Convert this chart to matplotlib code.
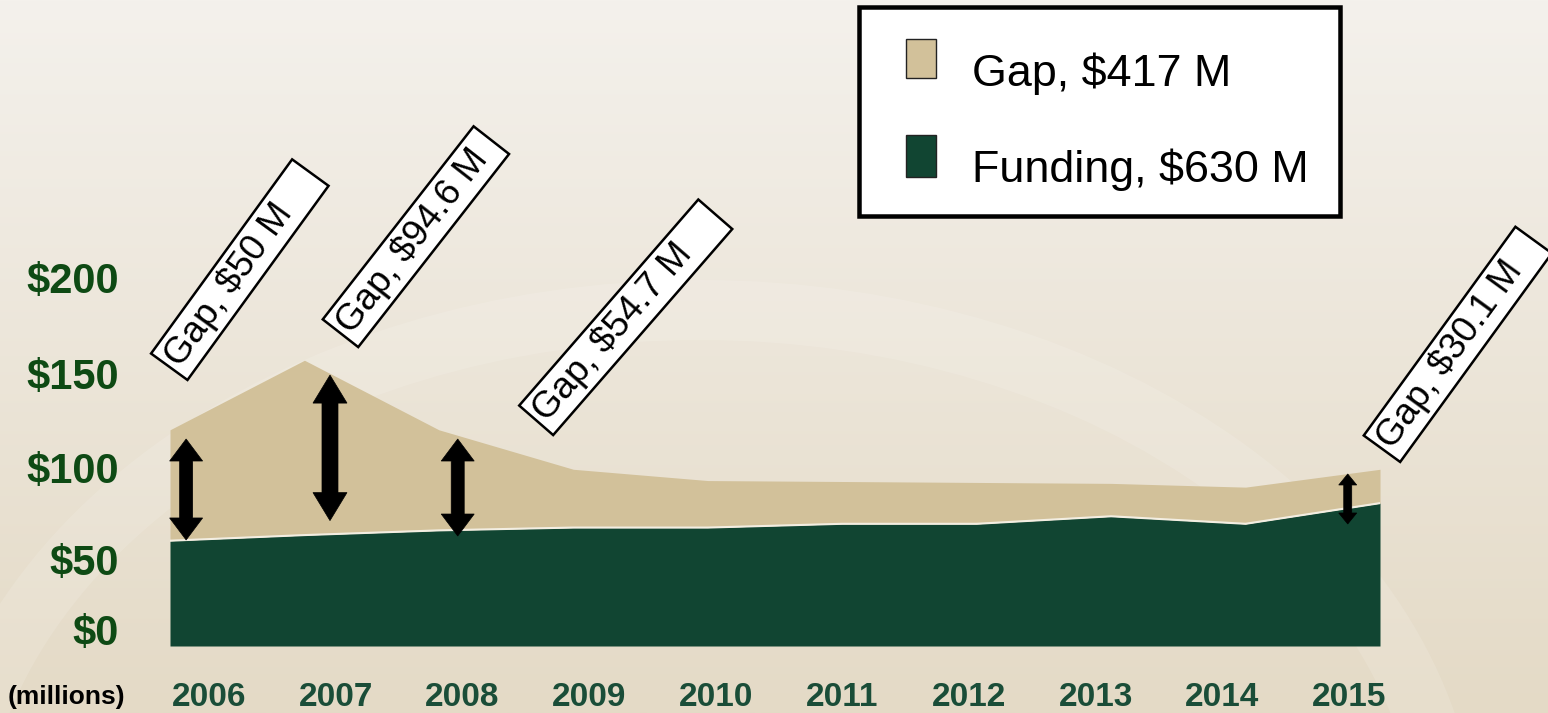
"Funding vs gap stacked area chart"

import matplotlib

matplotlib.use("Agg")
import matplotlib.pyplot as plt
import numpy as np
from matplotlib.colors import to_rgb
from matplotlib.patches import Ellipse, Polygon, Rectangle
from matplotlib.transforms import IdentityTransform, ScaledTranslation

plt.rcParams["font.family"] = ["Liberation Sans", "DejaVu Sans"]

#####
# Data
#####

years = [2006, 2007, 2008, 2009, 2010, 2011, 2012, 2013, 2014, 2015]
funding = [56, 59, 61.5, 63, 63, 65, 65, 69, 65, 76]
gap = [59, 93, 53.5, 31, 25, 22.5, 22, 17.5, 19.5, 18]

ytick_values = [0, 50, 100, 150, 200]
ytick_labels = ["$0", "$50", "$100", "$150", "$200"]

legend_labels = ["Gap, $417 M", "Funding, $630 M"]

# call-out boxes: text, anchor (year, $M)
gap_notes = ["Gap, $50 M", "Gap, $94.6 M", "Gap, $54.7 M", "Gap, $30.1 M"]
note_x = [2006.13, 2007.40, 2008.85, 2015.15]
note_y = [141.5, 159.0, 112.2, 97.9]

# double arrows marking the gap
arrow_x = [2006.12, 2007.19, 2008.14, 2014.76]
arrow_lo = [56.4, 66.7, 58.5, 64.9]
arrow_hi = [110.1, 144.1, 110.1, 91.5]

#####
# Style
#####

W, H = 1548, 713
GREEN = "#114532"
TAN = "#d2c19a"
YEAR_COLOR = "#1a4d38"
YLABEL_COLOR = "#0e4a14"

note_len = [240, 245, 273, 258]  # px
note_angle = [54, 52, 49, 54]
note_width = 45
arrow_size = [(13, 33, 22), (16, 34, 28), (13, 33, 22), (8, 18, 11)]  # shaft, head w, head l (px)


def px(v):
    "pixels to points"
    return v * 72 / 100


def double_arrow(ax, x, lo, hi, shaft, hw, hl):
    "Filled double-headed vertical arrow, sized in pixels"
    cx, yb = ax.transData.transform((x, lo))
    _, yt = ax.transData.transform((x, hi))
    s, h = shaft / 2, hw / 2
    pts = [
        (cx - s, yb + hl), (cx - h, yb + hl), (cx, yb), (cx + h, yb + hl),
        (cx + s, yb + hl), (cx + s, yt - hl), (cx + h, yt - hl), (cx, yt),
        (cx - h, yt - hl), (cx - s, yt - hl),
    ]
    poly = Polygon(pts, closed=True, fc="black", ec="black", lw=0.5,
                   transform=IdentityTransform(), zorder=4)
    ax.figure.add_artist(poly)


fig = plt.figure(figsize=(W / 100, H / 100), dpi=100)

# background gradient with a soft swoosh
bg = fig.add_axes([0, 0, 1, 1])
top = np.array(to_rgb("#f4f1ec"))
bottom = np.array(to_rgb("#e4dac6"))
t = np.linspace(0, 1, 256)[:, None, None]
grad = top * (1 - t) + bottom * t
bg.imshow(grad, aspect="auto", extent=[0, W, H, 0])
bg.add_patch(
    Ellipse((700, 860), 1500, 1100, fill=False, ec="white", lw=px(60), alpha=0.12)
)
bg.set_xlim(0, W)
bg.set_ylim(H, 0)
bg.axis("off")

# main axes
ax = fig.add_axes([170 / W, 67 / H, 1210 / W, 470 / H])
ax.set_facecolor("none")
ax.set_xlim(2006, 2015)
ax.set_ylim(0, 250)
for spine in ax.spines.values():
    spine.set_visible(False)

funding = np.array(funding, dtype=float)
total = funding + np.array(gap, dtype=float)
ax.fill_between(years, 0, funding, color=GREEN, lw=0)
ax.fill_between(years, funding, total, color=TAN, lw=0)
ax.plot(years, funding, color="#f3eee2", lw=1.5)

# y axis
ax.set_yticks(ytick_values)
ax.set_yticklabels(ytick_labels, fontsize=30, fontweight="bold", color=YLABEL_COLOR)
ax.tick_params(axis="y", length=0, pad=37)
for label, dy in zip(ax.get_yticklabels(), [16, -8, -9, -9, -8]):
    label.set_transform(
        label.get_transform() + ScaledTranslation(0, dy / 100, fig.dpi_scale_trans)
    )

# x axis (labels spaced a little tighter than the data points)
ax.set_xticks(np.linspace(2006.29, 2014.77, len(years)))
ax.set_xticklabels(
    [str(y) for y in years], fontsize=24, fontweight="bold", color=YEAR_COLOR
)
ax.tick_params(axis="x", length=0, pad=26)
fig.text(8 / W, 1 - 697 / H, "(millions)", fontsize=19, fontweight="bold",
         va="center", ha="left")

# arrows
for x, lo, hi, size in zip(arrow_x, arrow_lo, arrow_hi, arrow_size):
    double_arrow(ax, x, lo, hi, *size)

# rotated call-out boxes
for text, x, y, length, ang in zip(gap_notes, note_x, note_y, note_len, note_angle):
    ox, oy = ax.transData.transform((x, y))
    c, s = np.cos(np.radians(ang)), np.sin(np.radians(ang))
    box = Rectangle((ox, oy), length, note_width, angle=ang, fc="white", ec="black",
                    lw=px(2.5), transform=IdentityTransform(), zorder=5)
    fig.add_artist(box)
    tx = ox + 5 * c - (note_width / 2) * s
    ty = oy + 5 * s + (note_width / 2) * c
    fig.text(tx, ty, text, transform=IdentityTransform(), rotation=ang,
             rotation_mode="anchor", ha="left", va="center", fontsize=26.5, zorder=6)

# legend drawn by hand to match the framed box
frame = Rectangle((859 / W, 1 - 216 / H), (1340 - 859) / W, (216 - 7) / H,
                  transform=fig.transFigure, fc="white", ec="black", lw=px(4.5))
fig.add_artist(frame)
for (y0, y1), color, label, base in zip(
    [(39, 78), (135, 177)], [TAN, GREEN], legend_labels, [86, 182]
):
    handle = Rectangle((906 / W, 1 - y1 / H), 30 / W, (y1 - y0) / H,
                       transform=fig.transFigure, fc=color, ec="#222222", lw=1)
    fig.add_artist(handle)
    fig.text(972 / W, 1 - base / H, label, fontsize=32.3, va="baseline", ha="left")

fig.savefig("out.png", dpi=100)
